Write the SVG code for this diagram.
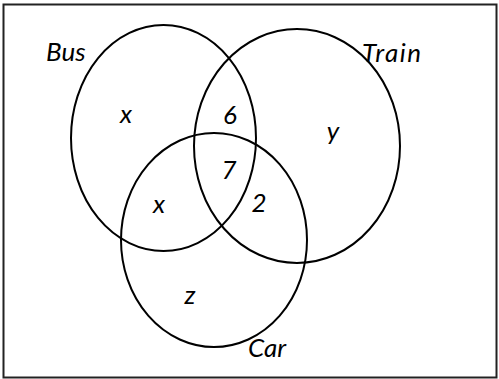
<svg xmlns="http://www.w3.org/2000/svg" width="499" height="379" viewBox="0 0 499 379">
<style>
.set{fill:none;stroke:#000;stroke-width:2}
.t{font-family:Lato,"Open Sans","Liberation Sans",sans-serif;font-style:italic;font-size:26px;fill:#000}
.m{text-anchor:middle}
</style>
<rect x="0" y="0" width="499" height="379" fill="#fff"/>
<rect x="3.5" y="4.5" width="493" height="373" fill="none" stroke="#222" stroke-width="2"/>
<g id="bus"><ellipse class="set" cx="163.5" cy="138" rx="92.5" ry="113"/><text class="t" x="46" y="61">Bus</text></g>
<g id="train"><ellipse class="set" cx="297" cy="146" rx="103" ry="117"/><text class="t" x="362" y="62" textLength="59">Train</text></g>
<g id="car"><ellipse class="set" cx="214" cy="240" rx="93" ry="107"/><text class="t" x="248" y="357">Car</text></g>
<g id="values">
<text class="t m" x="126" y="123">x</text>
<text class="t m" x="230" y="124">6</text>
<text class="t m" x="229" y="179">7</text>
<text class="t m" x="333" y="140">y</text>
<text class="t m" x="159" y="213">x</text>
<text class="t m" x="259" y="212">2</text>
<text class="t m" x="190" y="304">z</text>
</g>
</svg>
